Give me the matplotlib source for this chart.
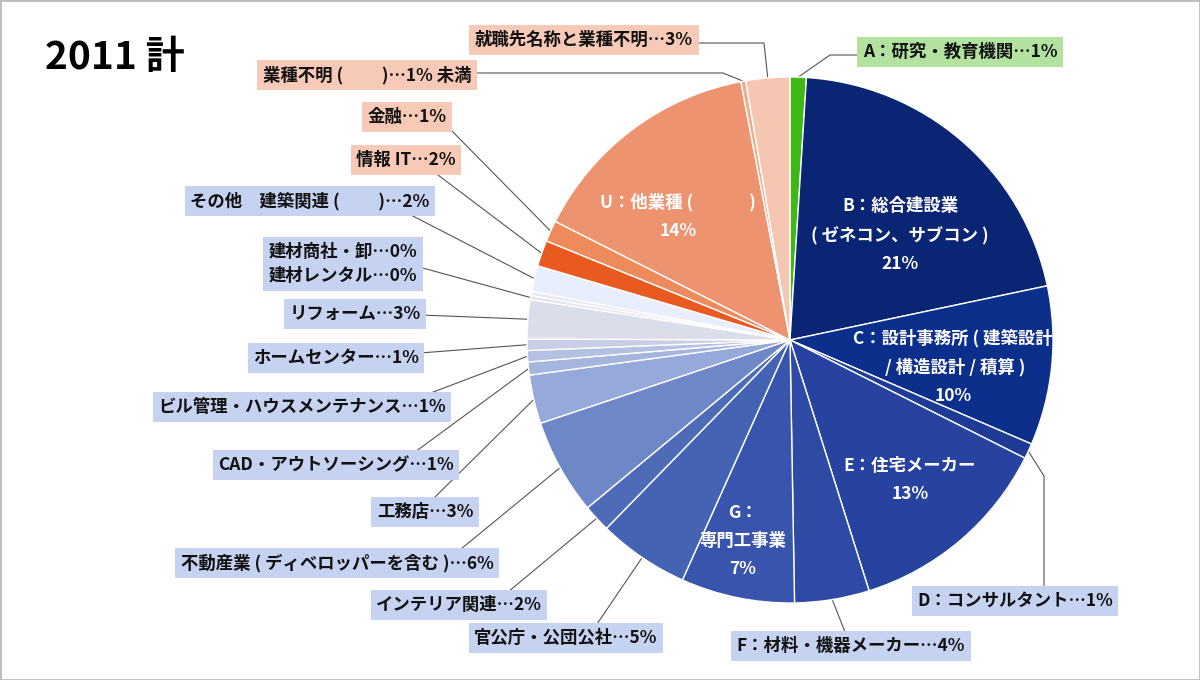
import matplotlib
matplotlib.use("Agg")
import matplotlib.pyplot as plt
import numpy as np
from matplotlib.patches import Rectangle

plt.rcParams["font.family"] = ["Noto Sans CJK JP", "DejaVu Sans"]

W, H = 1200, 680

# slices, clockwise from 12 o'clock
names = [
    "A：研究・教育機関",
    "B：総合建設業\n( ゼネコン、サブコン )",
    "C：設計事務所 ( 建築設計\n / 構造設計 / 積算 )",
    "D：コンサルタント",
    "E：住宅メーカー",
    "F：材料・機器メーカー",
    "G：\n専門工事業",
    "官公庁・公団公社",
    "インテリア関連",
    "不動産業 ( ディベロッパーを含む )",
    "工務店",
    "CAD・アウトソーシング",
    "ビル管理・ハウスメンテナンス",
    "ホームセンター",
    "リフォーム",
    "建材レンタル",
    "建材商社・卸",
    "その他　建築関連 (　　 )",
    "情報 IT",
    "金融",
    "U：他業種 (　　　 )",
    "業種不明 (　　 )",
    "就職先名称と業種不明",
]
shares = [1.0, 20.75, 9.8, 0.95, 12.75, 4.6, 7.0, 5.6, 1.7, 5.9, 3.0, 0.8,
          0.7, 0.7, 2.4, 0.25, 0.25, 1.6, 1.6, 1.3, 14.6, 0.3, 2.7]
pct_text = ["1%", "21%", "10%", "1%", "13%", "4%", "7%", "5%", "2%", "6%", "3%", "1%",
            "1%", "1%", "3%", "0%", "0%", "2%", "2%", "1%", "14%", "1% 未満", "3%"]

slice_colors = [
    "#3DB814", "#0A2574", "#0C2F8C", "#1E3C96", "#27439F", "#2E4AA5", "#3954AD",
    "#4463B3", "#4D6BB7", "#6E87C7", "#97A9DA", "#A6B5DE", "#B5C1E2", "#C8CFE5",
    "#DADEEB", "#E2E5EE", "#E4E8F2", "#E8EEFB", "#E85A20", "#EE8B5D", "#EE9370",
    "#F2AC8D", "#F5C6B1",
]
BLUE_BOX, GREEN_BOX, ORANGE_BOX = "#C5D3F0", "#B3E2A0", "#F6CAB6"

# label layout in pixels from top-left: text centre, leader start, optional elbow
inside = {1: (900, 235), 2: (953, 367), 4: (910, 480), 6: (743, 541), 20: (678, 216)}
outside = {
    0: ((960, 52), (858, 55), (830, 55), GREEN_BOX),
    3: ((1015, 601), (1044, 587), (1044, 476), BLUE_BOX),
    5: ((851, 646), (845, 632), None, BLUE_BOX),
    7: ((566, 638), (597, 624), None, BLUE_BOX),
    8: ((459, 605), (508, 592), None, BLUE_BOX),
    9: ((337, 563), (461, 549), None, BLUE_BOX),
    10: ((425, 512), (433, 499), None, BLUE_BOX),
    11: ((336, 465), (415, 452), None, BLUE_BOX),
    12: ((302, 407), (428, 394), None, BLUE_BOX),
    13: ((336, 358), (420, 353), None, BLUE_BOX),
    14: ((355, 314), (421, 315), None, BLUE_BOX),
    15: ((343, 264), (419, 267), None, BLUE_BOX),
    17: ((310, 201), (407, 213), None, BLUE_BOX),
    18: ((406, 160), (438, 175), None, ORANGE_BOX),
    19: ((407, 117), (448, 127), None, ORANGE_BOX),
    21: ((367, 75), (474, 73), (723, 73), ORANGE_BOX),
    22: ((584, 40), (695, 43), (764, 43), ORANGE_BOX),
}

CX, CY, R = 790, 340, 263

fig = plt.figure(figsize=(12, 6.8), dpi=100)
ax = fig.add_axes([0, 0, 1, 1])
wedges, _ = ax.pie(shares, colors=slice_colors, startangle=90, counterclock=False,
                   center=(CX, H - CY), radius=R,
                   wedgeprops=dict(edgecolor="white", linewidth=1.0))
ax.set_xlim(0, W)
ax.set_ylim(0, H)
ax.set_aspect("equal")
ax.axis("off")

fs = 12.5
for i, (x, y) in inside.items():
    ax.text(x, H - y, f"{names[i]}\n{pct_text[i]}", ha="center", va="center",
            color="white", fontsize=fs, fontweight="bold", linespacing=1.75)


def edge_point(w):
    th = np.deg2rad((w.theta1 + w.theta2) / 2)
    return CX + R * np.cos(th), (H - CY) + R * np.sin(th)


for i, ((tx, ty), (sx, sy), elbow, box) in outside.items():
    if i == 15:
        label = f"{names[16]}…{pct_text[16]}\n{names[15]}…{pct_text[15]}"
    else:
        label = f"{names[i]}…{pct_text[i]}"
    ax.text(tx, H - ty, label, ha="center", va="center", fontsize=fs,
            fontweight="bold", color="#111111", linespacing=1.45,
            bbox=dict(boxstyle="square,pad=0.32", fc=box, ec="none"))
    px, py = edge_point(wedges[i])
    xs = [sx]
    ys = [H - sy]
    if elbow is not None:
        xs.append(elbow[0])
        ys.append(H - elbow[1])
    xs.append(px)
    ys.append(py)
    ax.plot(xs, ys, color="#555555", lw=0.8, zorder=0.5)

ax.text(45, H - 58, "2011 計", ha="left", va="center", fontsize=28, fontweight="bold")

fig.patches.append(Rectangle((0, 0), 1, 1, transform=fig.transFigure, fill=False,
                             ec="#BBBBBB", lw=2))

fig.savefig("out.png", dpi=100)
